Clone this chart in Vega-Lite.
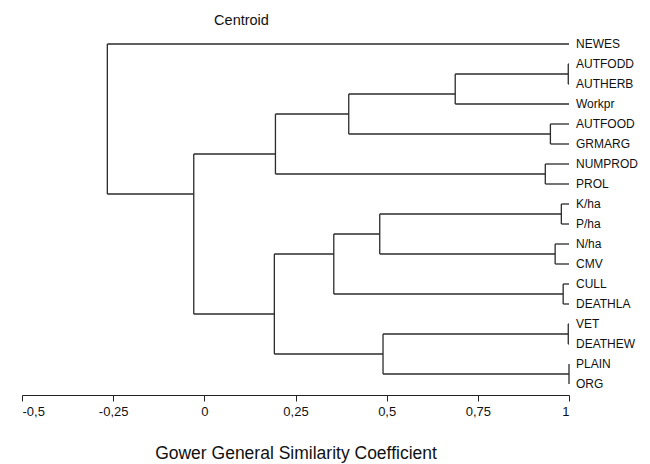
{
  "$schema": "https://vega.github.io/schema/vega-lite/v6.json",
  "autosize": "none",
  "width": 547,
  "height": 371,
  "padding": {"left": 22, "top": 24, "right": 81, "bottom": 69},
  "background": "white",
  "config": {
    "view": {"stroke": null},
    "font": "Liberation Sans"
  },
  "title": {
    "text": "Centroid",
    "fontSize": 14.5,
    "fontWeight": "normal",
    "font": "Liberation Sans",
    "color": "#111",
    "anchor": "middle",
    "dx": -54,
    "offset": 0,
    "dy": 4
  },
  "datasets": {
    "segs": [
      {"x": -0.266, "x2": 1, "y": 0, "y2": 0},
      {"x": 0.998, "x2": 1, "y": 1, "y2": 1},
      {"x": 0.998, "x2": 1, "y": 2, "y2": 2},
      {"x": 0.688, "x2": 1, "y": 3, "y2": 3},
      {"x": 0.949, "x2": 1, "y": 4, "y2": 4},
      {"x": 0.949, "x2": 1, "y": 5, "y2": 5},
      {"x": 0.935, "x2": 1, "y": 6, "y2": 6},
      {"x": 0.935, "x2": 1, "y": 7, "y2": 7},
      {"x": 0.979, "x2": 1, "y": 8, "y2": 8},
      {"x": 0.979, "x2": 1, "y": 9, "y2": 9},
      {"x": 0.962, "x2": 1, "y": 10, "y2": 10},
      {"x": 0.962, "x2": 1, "y": 11, "y2": 11},
      {"x": 0.984, "x2": 1, "y": 12, "y2": 12},
      {"x": 0.984, "x2": 1, "y": 13, "y2": 13},
      {"x": 0.998, "x2": 1, "y": 14, "y2": 14},
      {"x": 0.998, "x2": 1, "y": 15, "y2": 15},
      {"x": 1.0, "x2": 1, "y": 16, "y2": 16},
      {"x": 1.0, "x2": 1, "y": 17, "y2": 17},
      {"x": 0.688, "x2": 0.998, "y": 1.5, "y2": 1.5},
      {"x": 0.396, "x2": 0.949, "y": 4.5, "y2": 4.5},
      {"x": 0.396, "x2": 0.688, "y": 2.5, "y2": 2.5},
      {"x": 0.195, "x2": 0.396, "y": 3.5, "y2": 3.5},
      {"x": 0.195, "x2": 0.935, "y": 6.5, "y2": 6.5},
      {"x": -0.029, "x2": 0.195, "y": 5.5, "y2": 5.5},
      {"x": 0.481, "x2": 0.979, "y": 8.5, "y2": 8.5},
      {"x": 0.481, "x2": 0.962, "y": 10.5, "y2": 10.5},
      {"x": 0.355, "x2": 0.481, "y": 9.5, "y2": 9.5},
      {"x": 0.355, "x2": 0.984, "y": 12.5, "y2": 12.5},
      {"x": 0.192, "x2": 0.355, "y": 10.5, "y2": 10.5},
      {"x": 0.49, "x2": 0.998, "y": 14.5, "y2": 14.5},
      {"x": 0.49, "x2": 1.0, "y": 16.5, "y2": 16.5},
      {"x": 0.192, "x2": 0.49, "y": 15.5, "y2": 15.5},
      {"x": -0.029, "x2": 0.192, "y": 13.5, "y2": 13.5},
      {"x": -0.266, "x2": -0.029, "y": 7.5, "y2": 7.5},
      {"x": 0.998, "x2": 0.998, "y": 1, "y2": 2},
      {"x": 0.688, "x2": 0.688, "y": 1.5, "y2": 3},
      {"x": 0.949, "x2": 0.949, "y": 4, "y2": 5},
      {"x": 0.396, "x2": 0.396, "y": 2.5, "y2": 4.5},
      {"x": 0.935, "x2": 0.935, "y": 6, "y2": 7},
      {"x": 0.195, "x2": 0.195, "y": 3.5, "y2": 6.5},
      {"x": 0.979, "x2": 0.979, "y": 8, "y2": 9},
      {"x": 0.962, "x2": 0.962, "y": 10, "y2": 11},
      {"x": 0.481, "x2": 0.481, "y": 8.5, "y2": 10.5},
      {"x": 0.984, "x2": 0.984, "y": 12, "y2": 13},
      {"x": 0.355, "x2": 0.355, "y": 9.5, "y2": 12.5},
      {"x": 0.998, "x2": 0.998, "y": 14, "y2": 15},
      {"x": 1.0, "x2": 1.0, "y": 16, "y2": 17},
      {"x": 0.49, "x2": 0.49, "y": 14.5, "y2": 16.5},
      {"x": 0.192, "x2": 0.192, "y": 10.5, "y2": 15.5},
      {"x": -0.029, "x2": -0.029, "y": 5.5, "y2": 13.5},
      {"x": -0.266, "x2": -0.266, "y": 0, "y2": 7.5}
    ],
    "leaves": [
      {"label": "NEWES", "pos": 0, "sim": 1},
      {"label": "AUTFODD", "pos": 1, "sim": 1},
      {"label": "AUTHERB", "pos": 2, "sim": 1},
      {"label": "Workpr", "pos": 3, "sim": 1},
      {"label": "AUTFOOD", "pos": 4, "sim": 1},
      {"label": "GRMARG", "pos": 5, "sim": 1},
      {"label": "NUMPROD", "pos": 6, "sim": 1},
      {"label": "PROL", "pos": 7, "sim": 1},
      {"label": "K/ha", "pos": 8, "sim": 1},
      {"label": "P/ha", "pos": 9, "sim": 1},
      {"label": "N/ha", "pos": 10, "sim": 1},
      {"label": "CMV", "pos": 11, "sim": 1},
      {"label": "CULL", "pos": 12, "sim": 1},
      {"label": "DEATHLA", "pos": 13, "sim": 1},
      {"label": "VET", "pos": 14, "sim": 1},
      {"label": "DEATHEW", "pos": 15, "sim": 1},
      {"label": "PLAIN", "pos": 16, "sim": 1},
      {"label": "ORG", "pos": 17, "sim": 1}
    ]
  },
  "layer": [
    {
      "data": {"name": "segs"},
      "mark": {"type": "rule", "color": "#2b2b2b", "strokeWidth": 1.3},
      "encoding": {
        "x": {
          "field": "x", "type": "quantitative",
          "scale": {"domain": [-0.5, 1], "nice": false, "zero": false},
          "axis": {
            "values": [-0.5, -0.25, 0, 0.25, 0.5, 0.75, 1],
            "labelExpr": "replace(toString(datum.value), '.', ',')",
            "grid": false,
            "domainColor": "#222",
            "tickColor": "#222",
            "tickSize": 6,
            "labelFont": "Liberation Sans",
            "labelFontSize": 13,
            "labelColor": "#111",
            "labelPadding": 4,
            "title": "Gower General Similarity Coefficient",
            "titleFont": "Liberation Sans",
            "titleFontSize": 17.5,
            "titleFontWeight": "normal",
            "titleColor": "#111",
            "titlePadding": 26
          }
        },
        "x2": {"field": "x2"},
        "y": {
          "field": "y", "type": "quantitative",
          "scale": {"domain": [-1, 17.55], "reverse": true, "nice": false, "zero": false},
          "axis": null
        },
        "y2": {"field": "y2"}
      }
    },
    {
      "data": {"name": "leaves"},
      "mark": {"type": "text", "align": "left", "baseline": "middle", "dx": 7, "fontSize": 12, "font": "Liberation Sans", "color": "#111"},
      "encoding": {
        "x": {"field": "sim", "type": "quantitative"},
        "y": {"field": "pos", "type": "quantitative"},
        "text": {"field": "label"}
      }
    }
  ]
}
